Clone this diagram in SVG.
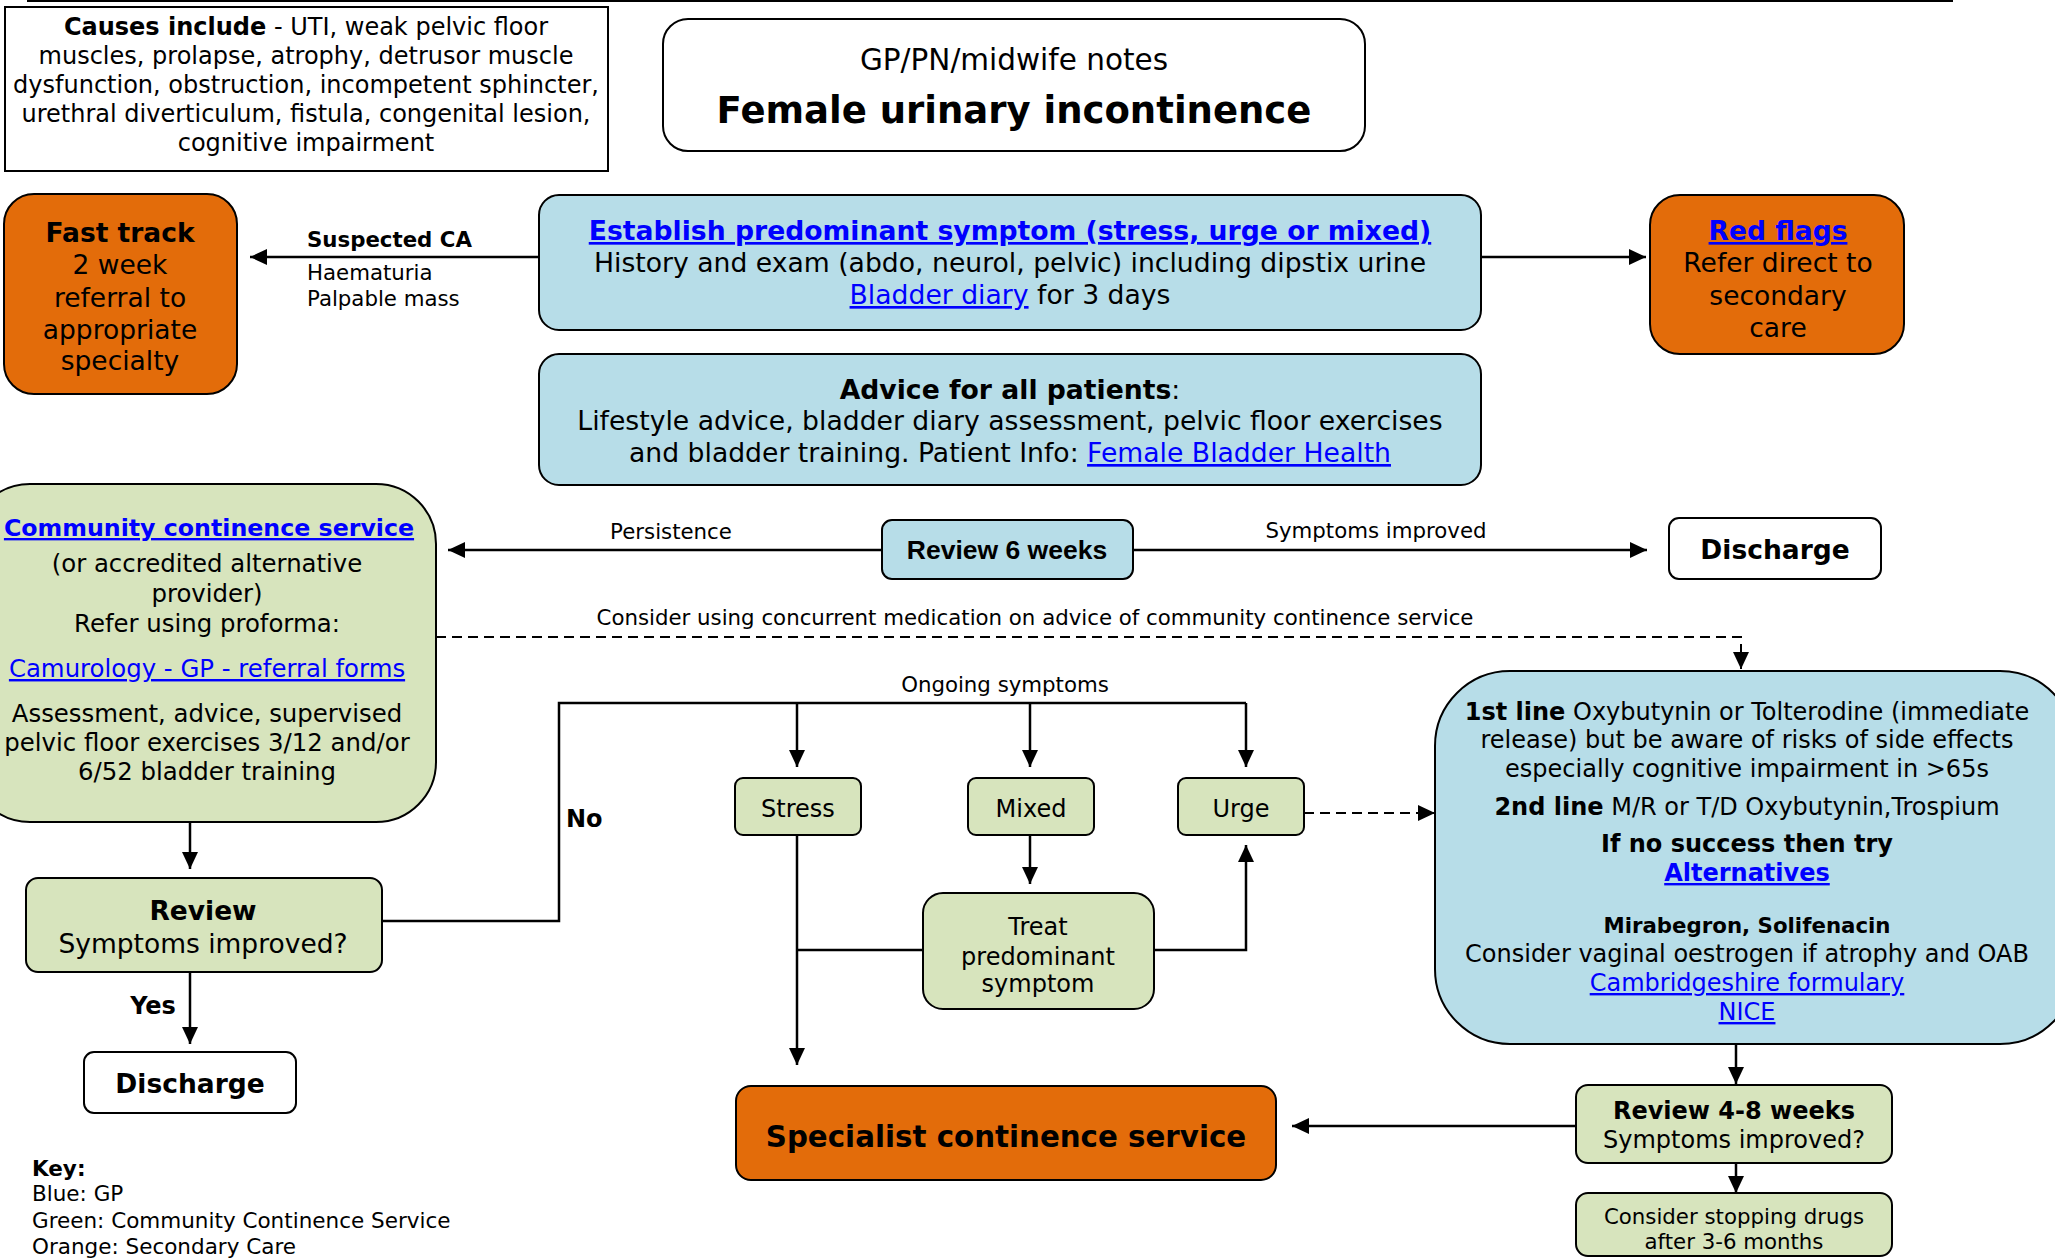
<svg xmlns="http://www.w3.org/2000/svg" width="2055" height="1258" viewBox="0 0 2055 1258">
<style>
text{font-family:"DejaVu Sans",Verdana,sans-serif;fill:#000;transform:translate(0px,2px)}
.c{text-anchor:middle}
.b{font-weight:bold}
.lk{fill:#0000FF;text-decoration:underline}
.f21{font-size:21.3px}
.f24{font-size:24px}
.f245{font-size:24.4px}
.f265{font-size:26.5px}
.f268{font-size:26.65px}
.box{stroke:#000;stroke-width:2}
.blue{fill:#B7DDE8}
.green{fill:#D7E4BD}
.orange{fill:#E36C0A}
.white{fill:#fff}
.ln{fill:none;stroke:#000;stroke-width:2.5}
.dash{fill:none;stroke:#000;stroke-width:2;stroke-dasharray:10 6}
</style>
<defs>
<marker id="ah" markerWidth="17" markerHeight="16" refX="17" refY="8" orient="auto" markerUnits="userSpaceOnUse"><path d="M0,0 L17,8 L0,16 z" fill="#000"/></marker>
</defs>
<rect width="2055" height="1258" fill="#fff"/>
<line x1="27" y1="1" x2="1953" y2="1" stroke="#000" stroke-width="2"/>

<g id="causes">
<rect x="5" y="7" width="603" height="164" fill="#fff" stroke="#000" stroke-width="2"/>
<text class="c f24" x="306"><tspan x="306" y="33"><tspan class="b">Causes include</tspan> - UTI, weak pelvic floor</tspan><tspan x="306" y="62">muscles, prolapse, atrophy, detrusor muscle</tspan><tspan x="306" y="91">dysfunction, obstruction, incompetent sphincter,</tspan><tspan x="306" y="120">urethral diverticulum, fistula, congenital lesion,</tspan><tspan x="306" y="149">cognitive impairment</tspan></text>
</g>

<g id="title">
<rect x="663" y="19" width="702" height="132" rx="25" class="box white"/>
<text class="c" x="1014" y="68" font-size="29.5">GP/PN/midwife notes</text>
<text class="c b" x="1014" y="121" font-size="37">Female urinary incontinence</text>
</g>

<g id="fasttrack">
<rect x="4" y="194" width="233" height="200" rx="30" class="box orange"/>
<text class="c f265"><tspan x="120" y="240" class="b">Fast track</tspan><tspan x="120" y="272">2 week</tspan><tspan x="120" y="305">referral to</tspan><tspan x="120" y="337">appropriate</tspan><tspan x="120" y="368">specialty</tspan></text>
</g>

<g id="establish">
<rect x="539" y="195" width="942" height="135" rx="20" class="box blue"/>
<text class="c f268"><tspan x="1010" y="238" class="b lk">Establish predominant symptom (stress, urge or mixed)</tspan><tspan x="1010" y="270">History and exam (abdo, neurol, pelvic) including dipstix urine</tspan><tspan x="1010" y="302"><tspan class="lk">Bladder diary</tspan> for 3 days</tspan></text>
</g>

<g id="redflags">
<rect x="1650" y="195" width="254" height="159" rx="30" class="box orange"/>
<text class="c f265"><tspan x="1778" y="238" class="b lk">Red flags</tspan><tspan x="1778" y="270">Refer direct to</tspan><tspan x="1778" y="303">secondary</tspan><tspan x="1778" y="335">care</tspan></text>
</g>

<g id="advice">
<rect x="539" y="354" width="942" height="131" rx="20" class="box blue"/>
<text class="c f268"><tspan x="1010" y="397"><tspan class="b">Advice for all patients</tspan>:</tspan><tspan x="1010" y="428">Lifestyle advice, bladder diary assessment, pelvic floor exercises</tspan><tspan x="1010" y="460">and bladder training. Patient Info: <tspan class="lk">Female Bladder Health</tspan></tspan></text>
</g>

<g id="review6">
<rect x="882" y="520" width="251" height="59" rx="10" class="box blue"/>
<text class="c b" x="1007" y="557" font-size="26.5" style="font-family:'Liberation Sans',Arial,sans-serif">Review 6 weeks</text>
</g>

<g id="discharge-right">
<rect x="1669" y="518" width="212" height="61" rx="10" class="box white"/>
<text class="c b f265" x="1775" y="557">Discharge</text>
</g>

<g id="community">
<rect x="-30" y="484" width="466" height="338" rx="60" class="box green"/>
<text class="c f245"><tspan x="209" y="534" class="b lk" font-size="23.7">Community continence service</tspan><tspan x="207" y="570">(or accredited alternative</tspan><tspan x="207" y="600">provider)</tspan><tspan x="207" y="630">Refer using proforma:</tspan><tspan x="207" y="675" class="lk">Camurology - GP - referral forms</tspan><tspan x="207" y="720">Assessment, advice, supervised</tspan><tspan x="207" y="749">pelvic floor exercises 3/12 and/or</tspan><tspan x="207" y="778">6/52 bladder training</tspan></text>
</g>

<g id="review-left">
<rect x="26" y="878" width="356" height="94" rx="12" class="box green"/>
<text class="c f265"><tspan x="203" y="918" class="b">Review</tspan><tspan x="203" y="951">Symptoms improved?</tspan></text>
</g>

<g id="discharge-left">
<rect x="84" y="1052" width="212" height="61" rx="10" class="box white"/>
<text class="c b f265" x="190" y="1091">Discharge</text>
</g>

<g id="stress">
<rect x="735" y="778" width="126" height="57" rx="8" class="box green"/>
<text class="c f24" x="798" y="815">Stress</text>
</g>
<g id="mixed">
<rect x="968" y="778" width="126" height="57" rx="8" class="box green"/>
<text class="c f24" x="1031" y="815">Mixed</text>
</g>
<g id="urge">
<rect x="1178" y="778" width="126" height="57" rx="8" class="box green"/>
<text class="c f24" x="1241" y="815">Urge</text>
</g>

<g id="treat">
<rect x="923" y="893" width="231" height="116" rx="20" class="box green"/>
<text class="c f24"><tspan x="1038" y="933">Treat</tspan><tspan x="1038" y="963">predominant</tspan><tspan x="1038" y="990">symptom</tspan></text>
</g>

<g id="drugs">
<rect x="1435" y="671" width="640" height="373" rx="75" class="box blue"/>
<text class="c f24"><tspan x="1747" y="718"><tspan class="b">1st line</tspan> Oxybutynin or Tolterodine (immediate</tspan><tspan x="1747" y="746">release) but be aware of risks of side effects</tspan><tspan x="1747" y="775">especially cognitive impairment in &gt;65s</tspan><tspan x="1747" y="813"><tspan class="b">2nd line</tspan> M/R or T/D Oxybutynin,Trospium</tspan><tspan x="1747" y="850" class="b">If no success then try</tspan><tspan x="1747" y="879" class="b lk">Alternatives</tspan><tspan x="1747" y="931" class="b f21">Mirabegron, Solifenacin</tspan><tspan x="1747" y="960">Consider vaginal oestrogen if atrophy and OAB</tspan><tspan x="1747" y="989" class="lk">Cambridgeshire formulary</tspan><tspan x="1747" y="1018" class="lk">NICE</tspan></text>
</g>

<g id="review48">
<rect x="1576" y="1085" width="316" height="78" rx="12" class="box green"/>
<text class="c f24"><tspan x="1734" y="1117" class="b">Review 4-8 weeks</tspan><tspan x="1734" y="1146">Symptoms improved?</tspan></text>
</g>

<g id="stopping">
<rect x="1576" y="1193" width="316" height="63" rx="12" class="box green"/>
<text class="c f21"><tspan x="1734" y="1222">Consider stopping drugs</tspan><tspan x="1734" y="1247">after 3-6 months</tspan></text>
</g>

<g id="specialist">
<rect x="736" y="1086" width="540" height="94" rx="15" class="box orange"/>
<text class="c b" x="1006" y="1145" font-size="29.3">Specialist continence service</text>
</g>

<g id="key">
<text font-size="21.5"><tspan x="32" y="1174" class="b">Key:</tspan><tspan x="32" y="1199">Blue: GP</tspan><tspan x="32" y="1226">Green: Community Continence Service</tspan><tspan x="32" y="1252">Orange: Secondary Care</tspan></text>
</g>

<g id="connectors">
<line x1="539" y1="257" x2="250" y2="257" class="ln" marker-end="url(#ah)"/>
<line x1="1481" y1="257" x2="1646" y2="257" class="ln" marker-end="url(#ah)"/>
<line x1="882" y1="550" x2="448" y2="550" class="ln" marker-end="url(#ah)"/>
<line x1="1133" y1="550" x2="1647" y2="550" class="ln" marker-end="url(#ah)"/>
<path d="M436,637 H1741 V669" class="dash" marker-end="url(#ah)"/>
<line x1="190" y1="822" x2="190" y2="869" class="ln" marker-end="url(#ah)"/>
<line x1="190" y1="972" x2="190" y2="1044" class="ln" marker-end="url(#ah)"/>
<path d="M382,921 H559 V703 H1246" class="ln" stroke-width="2"/>
<line x1="797" y1="703" x2="797" y2="767" class="ln" marker-end="url(#ah)"/>
<line x1="1030" y1="703" x2="1030" y2="767" class="ln" marker-end="url(#ah)"/>
<line x1="1246" y1="703" x2="1246" y2="767" class="ln" marker-end="url(#ah)"/>
<line x1="1030" y1="835" x2="1030" y2="884" class="ln" marker-end="url(#ah)"/>
<line x1="797" y1="835" x2="797" y2="1065" class="ln" marker-end="url(#ah)"/>
<line x1="923" y1="950" x2="797" y2="950" class="ln"/>
<path d="M1154,950 H1246 V845" class="ln" marker-end="url(#ah)"/>
<line x1="1304" y1="813" x2="1435" y2="813" class="dash" stroke-width="2.5" marker-end="url(#ah)"/>
<line x1="1736" y1="1044" x2="1736" y2="1084" class="ln" marker-end="url(#ah)"/>
<line x1="1736" y1="1163" x2="1736" y2="1193" class="ln" marker-end="url(#ah)"/>
<line x1="1576" y1="1126" x2="1292" y2="1126" class="ln" marker-end="url(#ah)"/>
<text class="b f21" x="307" y="245">Suspected CA</text>
<text class="f21"><tspan x="307" y="278">Haematuria</tspan><tspan x="307" y="304">Palpable mass</tspan></text>
<text class="c f21" x="671" y="537">Persistence</text>
<text class="c f21" x="1376" y="536">Symptoms improved</text>
<text class="c f21" x="1035" y="623">Consider using concurrent medication on advice of community continence service</text>
<text class="c f21" x="1005" y="690">Ongoing symptoms</text>
<text class="b f24" x="566" y="825">No</text>
<text class="c b f24" x="153" y="1012">Yes</text>
</g>
</svg>
